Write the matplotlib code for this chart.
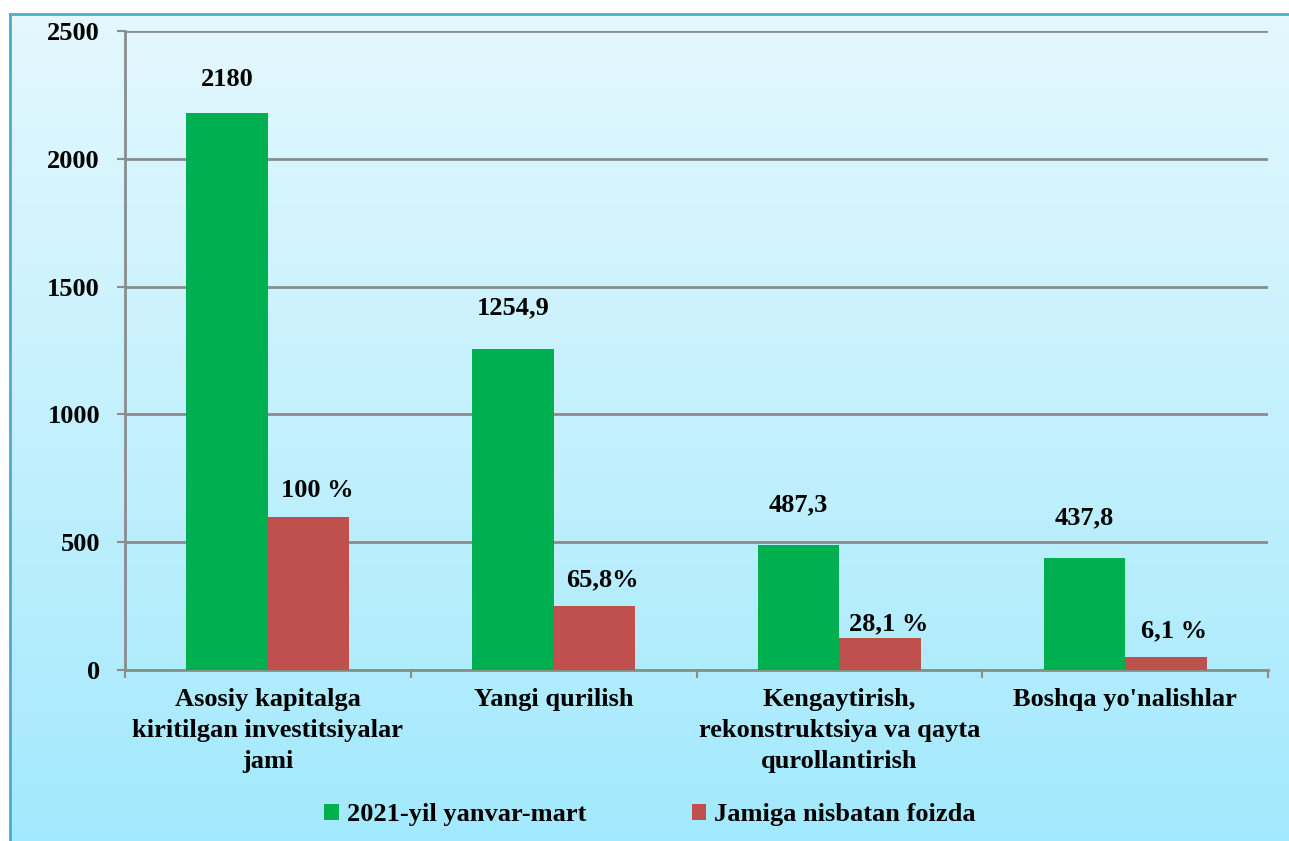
import numpy as np
import matplotlib.pyplot as plt
from matplotlib.colors import LinearSegmentedColormap

categories = [
    "Asosiy kapitalga\nkiritilgan investitsiyalar\njami",
    "Yangi qurilish",
    "Kengaytirish,\nrekonstruktsiya va qayta\nqurollantirish",
    "Boshqa yo'nalishlar",
]
values_2021 = [2180, 1254.9, 487.3, 437.8]
labels_2021 = ["2180", "1254,9", "487,3", "437,8"]
values_pct = [600, 250, 125, 50]
labels_pct = ["100 %", "65,8%", "28,1 %", "6,1 %"]
series_names = ["2021-yil yanvar-mart", "Jamiga nisbatan foizda"]

green = "#00B050"
red = "#C0504D"
grid_col = "#8C8C8C"
fs = 19

plt.rcParams['font.family'] = ['Liberation Serif', 'DejaVu Serif']
plt.rcParams['font.weight'] = 'bold'

W, H = 1289, 841
fig = plt.figure(figsize=(W / 100, H / 100), dpi=100)
fig.patch.set_facecolor("white")

# gradient background frame
bg = fig.add_axes([10 / W, 0, 1 - 10 / W, 1 - 14 / H])
grad = np.linspace(0, 1, 256).reshape(-1, 1)
cmap = LinearSegmentedColormap.from_list("bg", ["#E4F8FD", "#A3E9FD"])
bg.imshow(grad, aspect="auto", cmap=cmap, extent=[0, 1, 0, 1], origin="upper")
bg.set_xticks([])
bg.set_yticks([])
for side in ["right", "bottom"]:
    bg.spines[side].set_visible(False)
for side in ["left", "top"]:
    bg.spines[side].set_color("#4BACC6")
    bg.spines[side].set_linewidth(2)

ax = fig.add_axes([125 / W, 1 - 670 / H, (1268 - 125) / W, (670 - 31) / H])
ax.patch.set_alpha(0)

x = np.arange(len(categories))
bw = 0.285
ax.bar(x - bw / 2, values_2021, bw, color=green, label=series_names[0], zorder=3)
ax.bar(x + bw / 2, values_pct, bw, color=red, label=series_names[1], zorder=3)

green_off = [24, 30, 29, 29]
pct_off = [19, 19, 10, 19]
for i in range(len(categories)):
    ax.annotate(labels_2021[i], (x[i] - bw / 2, values_2021[i]), xytext=(0, green_off[i]),
                textcoords="offset points", ha="center", va="center",
                fontsize=fs, fontweight="bold")
    ax.annotate(labels_pct[i], (x[i] + bw / 2 + 0.03, values_pct[i]), xytext=(0, pct_off[i]),
                textcoords="offset points", ha="center", va="center",
                fontsize=fs, fontweight="bold")

ax.set_xlim(-0.5, len(categories) - 0.5)
ax.set_ylim(0, 2500)
ax.set_yticks([0, 500, 1000, 1500, 2000, 2500])
ax.yaxis.grid(True, color=grid_col, linewidth=2, zorder=0)
ax.set_axisbelow(True)

ax.set_xticks(x)
ax.set_xticklabels(categories, fontsize=fs, fontweight="bold", linespacing=1.45)
ax.set_xticks(np.arange(len(categories) + 1) - 0.5, minor=True)
ax.tick_params(axis="x", which="major", length=0, pad=13)
ax.tick_params(axis="x", which="minor", length=6, width=1.5, color=grid_col)
ax.tick_params(axis="y", length=6, width=1.5, color=grid_col, labelsize=fs, pad=12)
for lab in ax.get_yticklabels():
    lab.set_fontweight("bold")

for side in ["top", "right"]:
    ax.spines[side].set_visible(False)
for side in ["left", "bottom"]:
    ax.spines[side].set_color(grid_col)
    ax.spines[side].set_linewidth(2)

leg = fig.legend(loc="center", bbox_to_anchor=(650 / W, 1 - 815 / H), ncol=2,
                 frameon=False, handlelength=0.55, handleheight=0.55,
                 handletextpad=0.3, columnspacing=4.0,
                 prop={"weight": "bold", "size": fs})

fig.savefig("out.png", dpi=100)
